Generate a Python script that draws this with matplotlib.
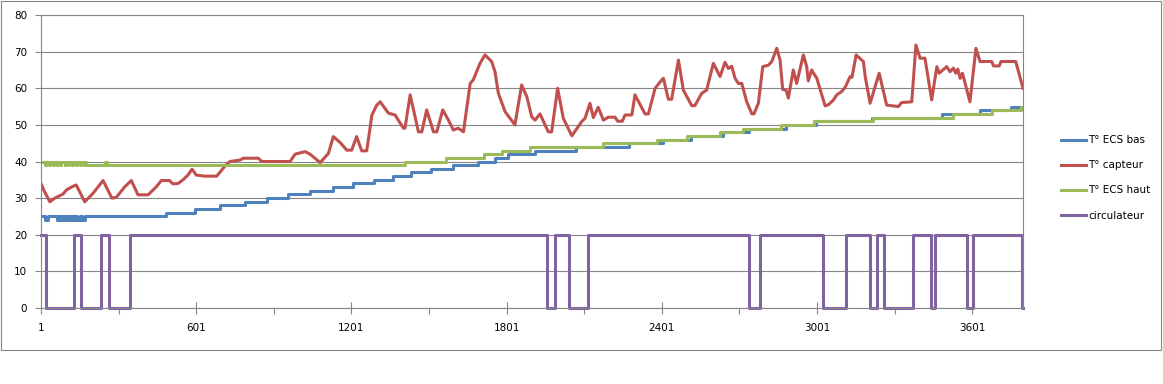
import matplotlib
matplotlib.use("Agg")
import matplotlib.pyplot as plt
from matplotlib.patches import Rectangle

n_points = 3797

# T° ECS bas : paliers (indice de debut, valeur)
bas_x = [1, 16, 29, 62, 70, 78, 86, 94, 102, 110, 118, 126, 134, 142, 150, 158, 171,
         485, 595, 693, 790, 874, 957, 1041, 1131, 1208, 1288, 1361, 1430, 1508, 1593,
         1692, 1756, 1808, 1911, 2068, 2275, 2407, 2513, 2636, 2739, 2880, 2997, 3212,
         3483, 3631, 3750, 3797]
bas_y = [25, 24, 25, 24, 25, 24, 25, 24, 25, 24, 25, 24, 25, 24, 25, 24, 25,
         26, 27, 28, 29, 30, 31, 32, 33, 34, 35, 36, 37, 38, 39,
         40, 41, 42, 43, 44, 45, 46, 47, 48, 49, 50, 51, 52,
         53, 54, 55, 55]

# T° ECS haut : paliers
haut_x = [1, 18, 21, 32, 35, 47, 50, 62, 65, 77, 80, 92, 95, 107, 110, 122, 125, 137,
          140, 152, 155, 167, 170, 175, 247, 256,
          1408, 1565, 1712, 1782, 1890, 2174, 2381, 2498, 2626, 2716, 2862, 2991, 3219,
          3528, 3679, 3790, 3797]
haut_y = [40, 39, 40, 39, 40, 39, 40, 39, 40, 39, 40, 39, 40, 39, 40, 39, 40, 39,
          40, 39, 40, 39, 40, 39, 40, 39,
          40, 41, 42, 43, 44, 45, 46, 47, 48, 49, 50, 51, 52,
          53, 54, 55, 55]

# circulateur : marche (20) / arret (0)
circ_x = [1, 20, 129, 154, 232, 264, 344, 1958, 1988, 2041, 2117, 2738, 2781, 3025,
          3113, 3206, 3232, 3261, 3373, 3442, 3455, 3580, 3603, 3795, 3797]
circ_y = [20, 0, 20, 0, 20, 0, 20, 0, 20, 0, 20, 0, 20, 0,
          20, 0, 20, 0, 20, 0, 20, 0, 20, 0, 0]

# T° capteur : points releves
capteur_x = [1, 13, 35, 54, 86, 99, 118, 137, 170, 202, 241, 275, 292, 325, 350, 376,
             415, 447, 466, 498, 511, 531, 550, 569, 585, 601, 635, 680, 700, 719, 732,
             770, 783, 841, 854, 964, 983, 1022, 1041, 1060, 1080, 1112, 1131, 1157,
             1183, 1202, 1221, 1241, 1260, 1273, 1280, 1299, 1312, 1344, 1370, 1382,
             1402, 1408, 1428, 1460, 1473, 1492, 1518, 1531, 1554, 1576, 1595, 1614,
             1634, 1660, 1672, 1698, 1717, 1743, 1756, 1769, 1795, 1814, 1833, 1859,
             1879, 1898, 1911, 1930, 1962, 1975, 1998, 2020, 2053, 2091, 2104, 2123,
             2136, 2155, 2175, 2194, 2220, 2230, 2248, 2259, 2285, 2297, 2336, 2349,
             2375, 2401, 2407, 2426, 2439, 2465, 2484, 2517, 2529, 2555, 2574, 2600,
             2626, 2645, 2658, 2671, 2684, 2697, 2710, 2729, 2749, 2757, 2774, 2791,
             2813, 2826, 2845, 2858, 2868, 2881, 2890, 2909, 2922, 2948, 2961, 2967,
             2980, 3000, 3032, 3045, 3064, 3077, 3096, 3109, 3129, 3136, 3152, 3180,
             3187, 3206, 3241, 3270, 3315, 3328, 3367, 3383, 3399, 3418, 3444, 3464,
             3473, 3502, 3515, 3528, 3537, 3545, 3554, 3563, 3592, 3615, 3631, 3676,
             3683, 3705, 3712, 3769, 3797]
capteur_y = [34.0, 32, 29.0, 30, 31.1, 32.2, 33, 33.6, 29, 31.3, 34.8, 30, 30.2, 33.1, 34.8, 30.9,
             30.9, 33.1, 34.8, 34.8, 33.9, 34, 35, 36.3, 37.9, 36.3, 36, 36, 37.7, 39.3, 40,
             40.4, 40.9, 40.9, 40, 40, 42, 42.7, 42, 40.9, 39.7, 42.2, 46.8, 45.2,
             43.1, 43.1, 46.8, 42.9, 42.9, 49.1, 52.7, 55.4, 56.3, 53.2, 52.7, 51.3,
             49.1, 49.1, 58.2, 48.1, 48.1, 54.1, 48.1, 48.1, 54.1, 51.3, 48.6, 49.1,
             48.1, 61.3, 62.3, 66.8, 69.1, 67.3, 64.5, 58.6, 53.6, 51.8, 50, 60.9,
             57.7, 52.2, 51.3, 53, 48.1, 48.1, 60, 51.8, 47, 50.9, 51.8, 55.9,
             52, 54.8, 51.3, 52.1, 52.1, 51, 51, 52.7, 52.7, 58.2, 53, 53,
             60, 62.3, 62.7, 57, 57, 67.7, 59.5, 55.2, 55.3, 58.6, 59.5, 66.8,
             63.2, 67.1, 65.4, 66, 62.7, 61.3, 61.3, 56.3, 53, 53, 55.9, 65.9,
             66.3, 67.3, 70.9, 67.7, 59.7, 59.5, 57.3, 65, 61.3, 69.1, 65.9, 62,
             65, 62.7, 55.2, 55.5, 56.8, 58.2, 59.1, 60.2, 63.2, 63, 69.1, 67.3,
             63.2, 55.9, 64.1, 55.4, 55, 56.1, 56.3, 71.8, 68.2, 68.2, 56.8, 65.9,
             64.1, 65.9, 64.5, 65.5, 64.1, 65.2, 62.7, 64.1, 56.3, 70.9, 67.3, 67.3,
             66.1, 66.1, 67.3, 67.3, 60]

x_labels = [1, 601, 1201, 1801, 2401, 3001, 3601]
x_minor = [301, 901, 1501, 2101, 2701, 3301]

plt.rcParams['font.family'] = 'DejaVu Sans'
plt.rcParams['font.size'] = 7.5

fig = plt.figure(figsize=(11.63, 3.84), dpi=100)
ax = fig.add_axes([41 / 1163, 76 / 384, 982 / 1163, 293 / 384])

lw = 2.2
ax.step(bas_x, bas_y, where='post', color='#4F81BD', lw=lw, label='T° ECS bas')
ax.plot(capteur_x, capteur_y, color='#C0504D', lw=lw, label='T° capteur')
ax.step(haut_x, haut_y, where='post', color='#9BBB59', lw=lw, label='T° ECS haut')
ax.step(circ_x, circ_y, where='post', color='#8064A2', lw=lw, label='circulateur',
        clip_on=False)

ax.set_xlim(1, n_points)
ax.set_ylim(0, 80)
ax.set_yticks(range(0, 81, 10))
ax.set_xticks(x_labels)
ax.set_xticks(x_minor, minor=True)
ax.grid(axis='y', color='#868686', lw=0.8)
ax.set_axisbelow(True)
for s in ax.spines.values():
    s.set_color('#868686')
    s.set_linewidth(0.8)
ax.tick_params(axis='y', length=4, width=0.8, color='#868686', pad=6)
ax.tick_params(axis='x', which='major', direction='inout', length=8, width=0.8,
               color='#868686', pad=7)
ax.tick_params(axis='x', which='minor', direction='out', length=4, width=0.8,
               color='#868686')

fig.legend(loc='upper left', bbox_to_anchor=(1056 / 1163, 1 - 130 / 384),
           frameon=False, borderpad=0, handlelength=2.4, handletextpad=0.2,
           labelspacing=1.45)

# cadre du graphique
fig.patches.append(Rectangle((1 / 1163, 1 - 350 / 384), 1160 / 1163, 349 / 384,
                             transform=fig.transFigure, fill=False,
                             edgecolor='#868686', lw=0.8))

fig.savefig('out.png', dpi=100)
